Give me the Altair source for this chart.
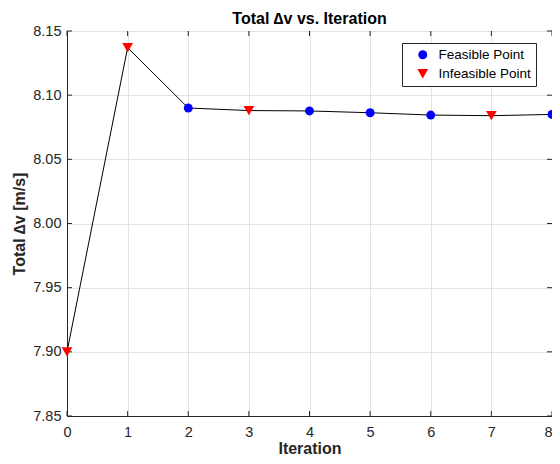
import altair as alt
import pandas as pd

iterations = [0, 1, 2, 3, 4, 5, 6, 7, 8]
total_dv = [7.900, 8.137, 8.090, 8.088, 8.0877, 8.0863, 8.0845, 8.0840, 8.085]
feasible = [False, False, True, False, True, True, True, False, True]
x_ticks = [0, 1, 2, 3, 4, 5, 6, 7, 8]
y_ticks = [7.85, 7.90, 7.95, 8.00, 8.05, 8.10, 8.15]

df = pd.DataFrame({
    "iter": iterations,
    "dv": total_dv,
    "type": ["Feasible Point" if f else "Infeasible Point" for f in feasible],
})

FONT = "Liberation Sans"
AX = "#262626"
W, H = 485, 385
TYPES = ["Feasible Point", "Infeasible Point"]

xs = alt.Scale(domain=[0, 8], nice=False)
ys = alt.Scale(domain=[7.85, 8.15], nice=False, zero=False)

x_axis = alt.Axis(values=x_ticks, format="d", title="Iteration", grid=True,
                  gridColor="#e3e3e3", domainColor=AX, tickColor=AX, tickSize=0,
                  labelColor=AX, labelFontSize=14.5, labelFont=FONT, labelPadding=9,
                  labelFlush=False,
                  labelAlign=alt.ExprRef(expr="datum.value == 8 ? 'right' : 'center'"),
                  titleFont=FONT, titleFontSize=16, titleFontWeight="bold",
                  titleColor=AX, titlePadding=2)
y_axis = alt.Axis(values=y_ticks, format=".2f", title="Total ∆v [m/s]", grid=True,
                  gridColor="#e3e3e3", domainColor=AX, tickColor=AX, tickSize=0,
                  labelColor=AX, labelFontSize=14.5, labelFont=FONT, labelPadding=6,
                  titleFont=FONT, titleFontSize=16, titleFontWeight="bold",
                  titleColor=AX, titlePadding=5)

line = alt.Chart(df).mark_line(color="#000000", strokeWidth=1).encode(
    x=alt.X("iter:Q", scale=xs, axis=x_axis),
    y=alt.Y("dv:Q", scale=ys, axis=y_axis),
)

points = alt.Chart(df).mark_point(filled=True, opacity=1).encode(
    x=alt.X("iter:Q", scale=xs),
    y=alt.Y("dv:Q", scale=ys),
    color=alt.Color("type:N",
                    scale=alt.Scale(domain=TYPES, range=["#0000ff", "#ff0000"]),
                    legend=alt.Legend(title=None, orient="none", legendX=335, legendY=12,
                                      fillColor="white", strokeColor="#262626",
                                      padding=5, rowPadding=4, symbolOffset=9,
                                      labelFont=FONT, labelFontSize=13.5, labelColor="#000000",
                                      labelOffset=9, symbolStrokeWidth=0)),
    shape=alt.Shape("type:N",
                    scale=alt.Scale(domain=TYPES, range=["circle", "triangle-down"]),
                    legend=None),
    size=alt.Size("type:N", scale=alt.Scale(domain=TYPES, range=[80, 115]), legend=None),
)

tx = pd.DataFrame({"t": x_ticks})
ty = pd.DataFrame({"t": y_ticks})
bt = alt.Chart(tx).mark_rule(color=AX).encode(x=alt.X("t:Q", scale=xs), y=alt.value(H), y2=alt.value(H - 5))
tt = alt.Chart(tx).mark_rule(color=AX).encode(x=alt.X("t:Q", scale=xs), y=alt.value(0), y2=alt.value(5))
lt = alt.Chart(ty).mark_rule(color=AX).encode(y=alt.Y("t:Q", scale=ys), x=alt.value(0), x2=alt.value(5))
rt = alt.Chart(ty).mark_rule(color=AX).encode(y=alt.Y("t:Q", scale=ys), x=alt.value(W), x2=alt.value(W - 5))

chart = alt.layer(bt, tt, lt, rt, line, points).properties(
    width=W, height=H,
    title=alt.TitleParams("Total ∆v vs. Iteration", font=FONT, fontSize=16,
                          fontWeight="bold", color="#000000", anchor="middle", offset=-4),
    padding={"left": 59, "top": 23, "right": 0, "bottom": 40},
    autosize=alt.AutoSizeParams(type="none"),
).configure_view(stroke=AX, strokeWidth=1).configure(background="white")

chart.save("out.html", embed_options={"renderer": "svg", "actions": False})
